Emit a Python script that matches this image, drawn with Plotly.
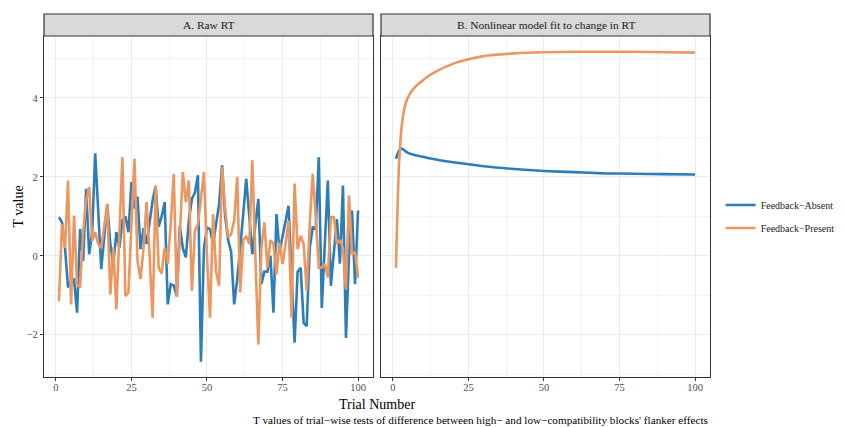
import plotly.graph_objects as go

trials = list(range(1, 101))

raw_absent = [0.98, 0.85, 0.2, -0.8, -0.65, -0.6, -1.44, 0.68, -0.13, 1.7,
              0.04, 0.6, 2.6, 1.1, -0.34, 0.5, 1.3, 0.3, -0.2, 0.6,
              0.2, 0.9, 1.0, 0.6, 1.87, 1.2, 1.5, 0.17, 0.7, 0.3,
              0.9, 1.4, 1.77, 0.74, 1.0, 1.36, -1.23, -0.72, -0.75, -1.02,
              0.76, 0.2, -0.04, 0.9, 1.44, 1.6, 2.04, -2.68, 0.2, 0.72,
              0.68, 0.3, 0.8, 1.3, 2.29, 1.0, 0.4, 0.1, -1.23, -0.6,
              0.2, 1.0, 1.95, 1.0, 0.04, 0.8, 1.44, -0.72, -0.4, -0.4,
              0.0, -1.44, 1.06, 0.1, 0.5, 0.9, 1.27, -0.5, -2.2, -0.4,
              -0.3, -1.7, -1.78, 0.2, 0.72, 0.68, 2.5, -1.32, 0.5, 1.91,
              -0.76, 0.2, 0.93, -0.2, 1.78, -2.08, 0.0, 1.15, -0.72, 1.15]

raw_present = [-1.15, 0.8, 0.2, 1.91, -1.23, 1.02, -0.72, -0.8, 0.6, 1.4,
               1.74, 0.38, 0.6, 0.3, 0.2, 0.7, 1.32, -0.98, 0.21, -1.36,
               0.5, 2.5, -1.02, -0.93, 0.8, 2.46, -0.13, -0.59, 0.2, 1.36,
               0.0, -1.57, 1.78, -0.3, -0.45, 0.21, -0.2, 0.8, 2.08, -1.04,
               0.5, 2.12, 1.36, 1.91, -0.89, 0.64, 0.8, 1.5, 2.12, 0.0,
               -1.57, 1.06, -0.4, -0.76, 2.25, 1.2, 0.47, 0.55, 0.9, 2.0,
               -0.93, 0.4, 0.5, 0.3, 2.42, 0.0, -2.25, 0.2, 0.85, -0.3,
               0.4, 0.3, -0.47, 0.34, -0.21, 0.3, 0.89, -1.57, 1.83, 0.17,
               0.51, 0.3, -0.89, 0.8, 2.08, 1.0, -0.3, -0.3, -0.2, -0.55,
               0.98, 0.98, 0.3, 0.4, 0.2, -0.85, 1.53, 0.04, 0.1, -0.55]

fit_trials = [1, 2, 3, 4, 5, 6, 7, 8, 10, 12, 15, 20, 25, 30, 40, 50, 60, 70, 80, 90, 100]
fit_absent = [2.46, 2.66, 2.72, 2.66, 2.61, 2.58, 2.56, 2.54, 2.51, 2.47, 2.43,
              2.37, 2.32, 2.27, 2.20, 2.15, 2.12, 2.09, 2.08, 2.07, 2.06]
fit_present = [-0.3, 2.3, 3.35, 3.8, 4.02, 4.15, 4.25, 4.33, 4.45, 4.57, 4.70,
               4.87, 4.98, 5.06, 5.13, 5.16, 5.17, 5.17, 5.17, 5.16, 5.15]

series_names = ["Feedback\u2212Absent", "Feedback\u2212Present"]
panel_titles = ["A. Raw RT", "B. Nonlinear model fit to change in RT"]
x_title = "Trial Number"
y_title = "T value"
caption = "T values of trial\u2212wise tests of difference between high\u2212 and low\u2212compatibility blocks' flanker effects"

BLUE = "#2D7EB8"
ORANGE = "#EC9660"
FONT = "Liberation Serif"

fig = go.Figure()
fig.add_trace(go.Scatter(x=trials, y=raw_absent, mode="lines", line=dict(color=BLUE, width=2.6),
                         name=series_names[0], legendgroup="a", xaxis="x", yaxis="y"))
fig.add_trace(go.Scatter(x=trials, y=raw_present, mode="lines", line=dict(color=ORANGE, width=2.6),
                         name=series_names[1], legendgroup="p", xaxis="x", yaxis="y"))
fig.add_trace(go.Scatter(x=fit_trials, y=fit_absent, mode="lines", line=dict(color=BLUE, width=2.6, shape="spline", smoothing=0.6),
                         name=series_names[0], legendgroup="a", showlegend=False, xaxis="x2", yaxis="y2"))
fig.add_trace(go.Scatter(x=fit_trials, y=fit_present, mode="lines", line=dict(color=ORANGE, width=2.6, shape="spline", smoothing=0.6),
                         name=series_names[1], legendgroup="p", showlegend=False, xaxis="x2", yaxis="y2"))

PLOT_H = 363.0
PLOT_W = 666.0
ytop = (PLOT_H - 22) / PLOT_H
xa_end = 329 / PLOT_W
xb_start = 337 / PLOT_W

common_x = dict(range=[-3.95, 104.95], tickvals=[0, 25, 50, 75, 100], showgrid=True, gridcolor="#EBEBEB",
                gridwidth=1.2, minor=dict(showgrid=True, gridcolor="#F3F3F3", dtick=12.5, tick0=0, gridwidth=0.8),
                zeroline=False, showline=True, mirror=True, linecolor="#333333", linewidth=1.2,
                ticks="outside", ticklen=3, tickcolor="#333333", ticklabelstandoff=-3,
                tickfont=dict(family=FONT, size=10.5, color="#4D4D4D"))
common_y = dict(range=[-3.07, 5.57], tickvals=[-2, 0, 2, 4], showgrid=True, gridcolor="#EBEBEB",
                gridwidth=1.2, minor=dict(showgrid=True, gridcolor="#F3F3F3", dtick=1, tick0=0, gridwidth=0.8),
                zeroline=False, showline=True, mirror=True, linecolor="#333333", linewidth=1.2,
                domain=[0, ytop])

# page body adds an 8px offset; margins are shifted to compensate
fig.update_layout(
    width=844, height=427,
    margin=dict(l=36, r=142, t=6, b=58, autoexpand=False),
    paper_bgcolor="white", plot_bgcolor="white",
    xaxis=dict(domain=[0, xa_end], anchor="y", **common_x),
    xaxis2=dict(domain=[xb_start, 1], anchor="y2", **common_x),
    yaxis=dict(anchor="x", ticks="outside", ticklen=3, tickcolor="#333333",
               tickfont=dict(family=FONT, size=10.5, color="#4D4D4D"), **common_y),
    yaxis2=dict(anchor="x2", matches="y", showticklabels=False, ticks="", **common_y),
    legend=dict(x=1.016, y=0.442, xanchor="left", yanchor="middle",
                font=dict(family=FONT, size=10, color="#222222"), bgcolor="rgba(0,0,0,0)",
                tracegroupgap=4, itemwidth=30),
    showlegend=True,
)

shapes = []
annotations = []
for (x0, x1), title in zip([(0, xa_end), (xb_start, 1)], panel_titles):
    shapes.append(dict(type="rect", xref="paper", yref="paper", x0=x0, x1=x1, y0=ytop, y1=1,
                       fillcolor="#D9D9D9", line=dict(color="#333333", width=1.2), layer="above"))
    annotations.append(dict(text=title, xref="paper", yref="paper", x=(x0 + x1) / 2, y=(ytop + 1) / 2,
                            showarrow=False, xanchor="center", yanchor="middle",
                            font=dict(family=FONT, size=11.4, color="#1A1A1A")))

annotations.append(dict(text=x_title, xref="paper", yref="paper", x=0.5, y=-27 / PLOT_H,
                        showarrow=False, xanchor="center", yanchor="middle",
                        font=dict(family=FONT, size=14, color="#000000")))
annotations.append(dict(text=y_title, xref="paper", yref="paper", x=-26 / PLOT_W, y=ytop / 2,
                        showarrow=False, xanchor="center", yanchor="middle", textangle=-90,
                        font=dict(family=FONT, size=14, color="#000000")))
annotations.append(dict(text=caption, xref="paper", yref="paper", x=1, y=-43 / PLOT_H,
                        showarrow=False, xanchor="right", yanchor="middle",
                        font=dict(family=FONT, size=11.2, color="#000000")))

fig.update_layout(shapes=shapes, annotations=annotations)

fig.write_html("out.html")
